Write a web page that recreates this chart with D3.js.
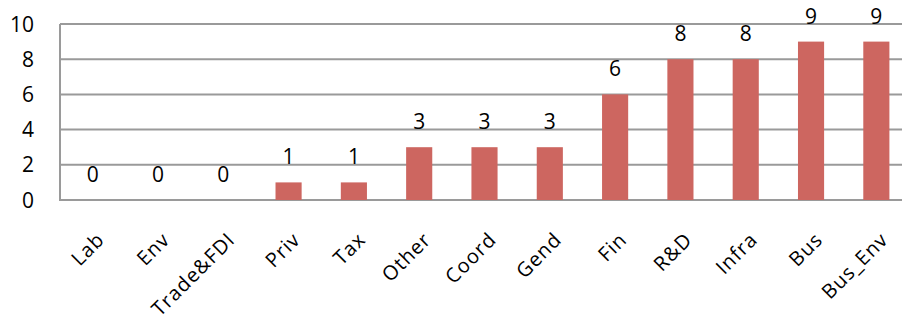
<!DOCTYPE html>
<html>
<head>
<meta charset="utf-8">
<script src="https://cdn.jsdelivr.net/npm/d3@7"></script>
<style>
  body { margin: 0; background: #fff; }
  text { font-family: "Open Sans", "Liberation Sans", sans-serif; fill: #000; }
</style>
</head>
<body>
<div id="graphic"></div>
<script>
// chart data
const categories = ["Lab", "Env", "Trade&FDI", "Priv", "Tax", "Other", "Coord", "Gend", "Fin", "R&D", "Infra", "Bus", "Bus_Env"];
const values = [0, 0, 0, 1, 1, 3, 3, 3, 6, 8, 8, 9, 9];
const yTicks = [0, 2, 4, 6, 8, 10];

// set the dimensions and margins of the graph
const W = 902, H = 320;
const margin = {top: 24, left: 60, bottom: 120};
const plotRight = 909; // plot runs slightly past the picture edge

const svg = d3.select("#graphic")
    .append("svg")
    .attr("width", W)
    .attr("height", H);

const x = d3.scaleBand()
    .domain(categories)
    .range([margin.left, plotRight])
    .paddingInner(0.6)
    .paddingOuter(0.3);

const y = d3.scaleLinear()
    .domain([0, 10])
    .range([H - margin.bottom, margin.top]);

// gridlines
svg.append("g")
    .selectAll("line")
    .data(yTicks)
    .join("line")
    .attr("x1", margin.left)
    .attr("x2", W)
    .attr("y1", d => y(d))
    .attr("y2", d => y(d))
    .style("stroke", "#9a9a9a")
    .style("stroke-width", 2);

// y axis line
svg.append("line")
    .attr("x1", margin.left).attr("x2", margin.left)
    .attr("y1", y(0) + 1).attr("y2", y(10))
    .style("stroke", "#9a9a9a")
    .style("stroke-width", 2);

// y tick labels
svg.append("g")
    .selectAll("text")
    .data(yTicks)
    .join("text")
    .attr("x", 34)
    .attr("y", d => y(d))
    .attr("dy", "0.36em")
    .attr("text-anchor", "end")
    .style("font-size", "21px")
    .text(d => d);

// bars
svg.append("g")
    .selectAll("rect")
    .data(values)
    .join("rect")
    .attr("x", (d, i) => x(categories[i]))
    .attr("width", x.bandwidth())
    .attr("y", d => y(d))
    .attr("height", d => y(0) - y(d))
    .style("fill", "#cd6660");

// value labels
svg.append("g")
    .selectAll("text")
    .data(values)
    .join("text")
    .attr("x", (d, i) => x(categories[i]) + x.bandwidth() / 2)
    .attr("y", d => y(d) - 18)
    .attr("text-anchor", "middle")
    .style("font-size", "21px")
    .text(d => d);

// category labels, rotated
svg.append("g")
    .selectAll("text")
    .data(categories)
    .join("text")
    .attr("text-anchor", "end")
    .attr("transform", d => `translate(${x(d) + x.bandwidth() / 2 + 13}, 241) rotate(-45)`)
    .style("font-size", "20px")
    .style("letter-spacing", "1px")
    .text(d => d);
</script>
</body>
</html>
